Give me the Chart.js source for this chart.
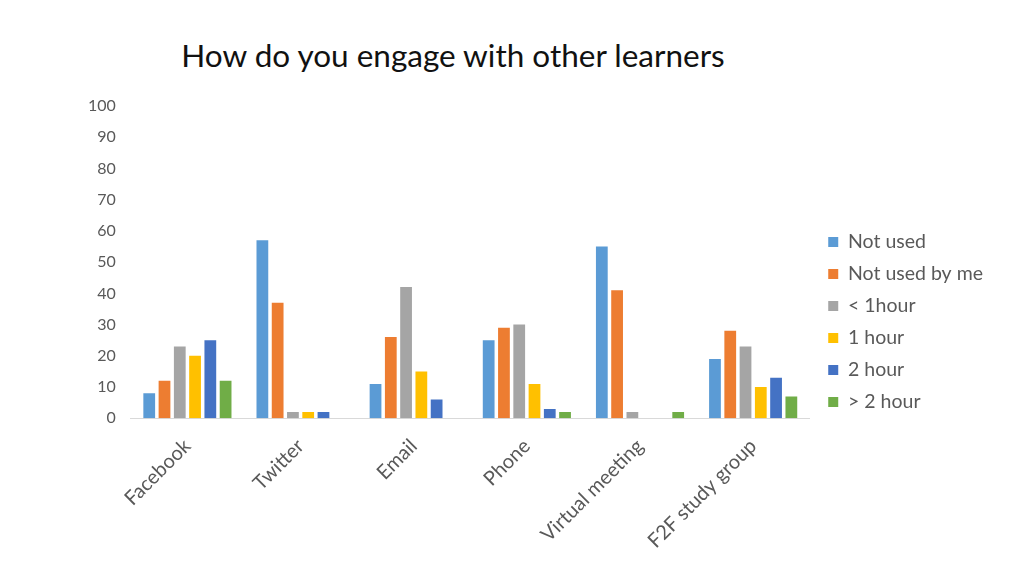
<!DOCTYPE html>
<html>
<head>
<meta charset="utf-8">
<script src="https://cdn.jsdelivr.net/npm/chart.js@4"></script>
<style>
  html, body { margin: 0; padding: 0; background: #fff; }
  #wrap { position: relative; width: 1024px; height: 576px; }
  #title { position: absolute; left: 0; top: 36px; width: 906px; text-align: center;
           font-family: Lato, "Open Sans", sans-serif; font-size: 31.5px; color: #111; }
  canvas { position: absolute; left: 0; top: 0; }
</style>
</head>
<body>
<div id="wrap">
  <div id="title">How do you engage with other learners</div>
  <canvas id="c" width="1024" height="576"></canvas>
</div>
<script>
const categories = ["Facebook", "Twitter", "Email", "Phone", "Virtual meeting", "F2F study group"];
const seriesNames = ["Not used", "Not used by me", "< 1hour", "1 hour", "2 hour", "> 2 hour"];
const notUsed      = [8, 57, 11, 25, 55, 19];
const notUsedByMe  = [12, 37, 26, 29, 41, 28];
const lessOneHour  = [23, 2, 42, 30, 2, 23];
const oneHour      = [20, 2, 15, 11, 0, 10];
const twoHour      = [25, 2, 6, 3, 0, 13];
const moreTwoHour  = [12, 0, 0, 2, 2, 7];
const yTicks = [0, 10, 20, 30, 40, 50, 60, 70, 80, 90, 100];

const colors = ["#5B9BD5", "#ED7D31", "#A5A5A5", "#FFC000", "#4472C4", "#70AD47"];
const seriesValues = [notUsed, notUsedByMe, lessOneHour, oneHour, twoHour, moreTwoHour];

const datasets = seriesNames.map((n, i) => ({
  label: n,
  data: seriesValues[i],
  backgroundColor: colors[i],
  borderWidth: 0,
  categoryPercentage: 0.81,
  barPercentage: 0.77
}));

const FONT = 'Lato, "Open Sans", sans-serif';
const GREY = '#595959';

// place the legend a little right of the plot and centre it vertically
const legendPlace = {
  id: 'legendPlace',
  afterLayout(chart) {
    const L = chart.legend;
    if (!L) return;
    const dx = (chart.chartArea.right + 6) - L.left;
    L.left += dx; L.right += dx;
    const dy = 322 - (L.top + L.bottom) / 2;
    L.top += dy; L.bottom += dy;
  }
};

new Chart(document.getElementById('c'), {
  type: 'bar',
  data: { labels: categories, datasets },
  plugins: [legendPlace],
  options: {
    responsive: false,
    animation: false,
    devicePixelRatio: 1,
    layout: { padding: { top: 106, left: 73, right: 37, bottom: 7 } },
    plugins: {
      title: { display: false },
      tooltip: { enabled: false },
      legend: {
        position: 'right',
        align: 'center',
        labels: {
          boxWidth: 10, boxHeight: 10, padding: 12.5,
          color: GREY,
          font: { family: FONT, size: 19.5 }
        }
      }
    },
    scales: {
      x: {
        grid: { display: false, drawTicks: false },
        border: { display: true, color: '#D9D9D9', width: 1 },
        ticks: {
          color: GREY, font: { family: FONT, size: 20 },
          minRotation: 45, maxRotation: 45, padding: 16
        }
      },
      y: {
        min: 0, max: 100,
        afterBuildTicks: (ax) => { ax.ticks = yTicks.map(v => ({ value: v })); },
        grid: { display: false, drawTicks: false },
        border: { display: false },
        ticks: { color: GREY, font: { family: FONT, size: 16 }, padding: 15 }
      }
    }
  }
});
</script>
</body>
</html>
